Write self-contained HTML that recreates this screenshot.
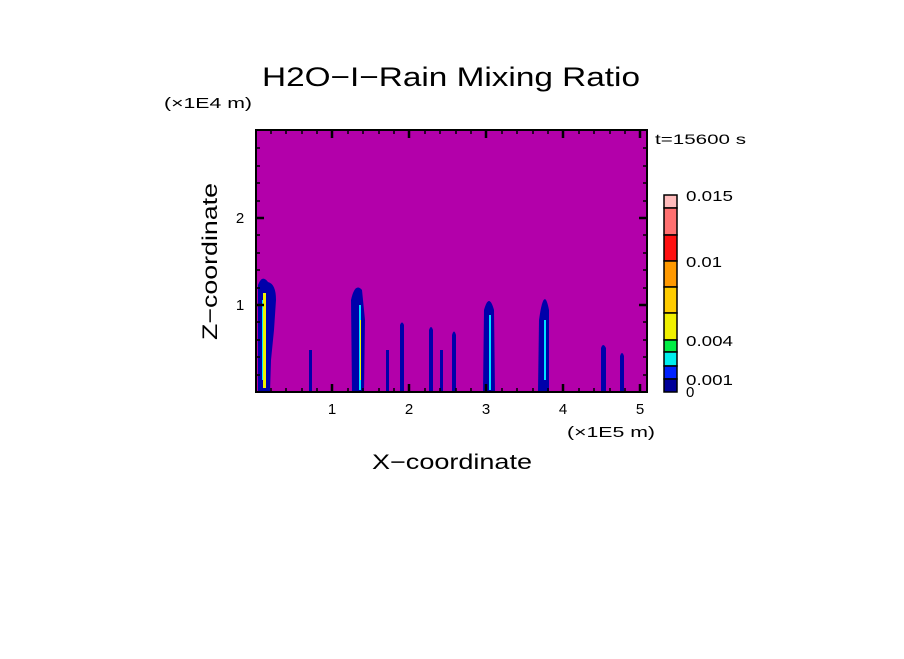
<!DOCTYPE html>
<html><head><style>body{margin:0;background:#fff}</style></head><body>
<svg width="904" height="654" xmlns="http://www.w3.org/2000/svg" font-family="Liberation Sans, DejaVu Sans, sans-serif">
<rect width="904" height="654" fill="#fff"/>
<text x="262" y="86" font-size="27" textLength="378" lengthAdjust="spacingAndGlyphs" fill="#000">H2O−I−Rain Mixing Ratio</text>
<text x="164" y="108" font-size="15" textLength="88" lengthAdjust="spacingAndGlyphs" fill="#000">(×1E4 m)</text>
<text x="655" y="144" font-size="14" textLength="91" lengthAdjust="spacingAndGlyphs" fill="#000">t=15600 s</text>
<rect x="256" y="130" width="391" height="262" fill="#b300aa"/>
<g fill="#0000aa">
<path d="M258,392 L258,285 Q262,274 268,282 Q276,284 276,300 L274,330 L271,360 L270,392 Z"/>
<path d="M352,392 L351,300 Q355,282 362,290 L365,320 L364,392 Z"/>
<rect x="309" y="350" width="3" height="42"/>
<rect x="386" y="350" width="3" height="42"/>
<path d="M400,392 L400,325 Q402,320 404,325 L404,392 Z"/>
<path d="M429,392 L429,330 Q431,324 433,330 L433,392 Z"/>
<rect x="440" y="350" width="3" height="42"/>
<path d="M452,392 L452,335 Q454,328 456,335 L456,392 Z"/>
<path d="M483,392 L484,310 Q489,292 494,310 L495,392 Z"/>
<path d="M538,392 L539,320 Q544,284 549,310 L549,392 Z"/>
<path d="M601,392 L601,348 Q603,342 606,348 L606,392 Z"/>
<path d="M620,392 L620,356 Q622,350 624,356 L624,392 Z"/>
</g>
<rect x="263" y="293" width="3" height="95" fill="#f0f000"/>
<rect x="262" y="300" width="1" height="80" fill="#00e0ff"/>
<rect x="359" y="305" width="2" height="85" fill="#00e0ff"/>
<rect x="360" y="320" width="1" height="60" fill="#f0f000"/>
<rect x="489" y="315" width="2" height="75" fill="#00e0ff"/>
<rect x="544" y="320" width="2" height="60" fill="#00e0ff"/>
<g stroke="#000" fill="none">
<rect x="256" y="130" width="391" height="262" stroke-width="2"/>
<path stroke-width="1.5" d="M271,392v-4M286,392v-4M302,392v-4M317,392v-4M348,392v-4M363,392v-4M379,392v-4M394,392v-4M425,392v-4M440,392v-4M456,392v-4M471,392v-4M502,392v-4M517,392v-4M533,392v-4M548,392v-4M579,392v-4M594,392v-4M610,392v-4M625,392v-4
M271,130v4M286,130v4M302,130v4M317,130v4M348,130v4M363,130v4M379,130v4M394,130v4M425,130v4M440,130v4M456,130v4M471,130v4M502,130v4M517,130v4M533,130v4M548,130v4M579,130v4M594,130v4M610,130v4M625,130v4
M256,375h4M256,357h4M256,340h4M256,322h4M256,288h4M256,270h4M256,253h4M256,235h4M256,201h4M256,183h4M256,166h4M256,148h4
M647,375h-4M647,357h-4M647,340h-4M647,322h-4M647,288h-4M647,270h-4M647,253h-4M647,235h-4M647,201h-4M647,183h-4M647,166h-4M647,148h-4"/>
<path stroke-width="2.5" d="M332,392v-8M409,392v-8M486,392v-8M563,392v-8M640,392v-8M332,130v8M409,130v8M486,130v8M563,130v8M640,130v8M256,305h8M256,218h8M647,305h-8M647,218h-8"/>
</g>
<g font-size="15" fill="#000" text-anchor="middle">
<text x="332" y="414">1</text><text x="409" y="414">2</text><text x="486" y="414">3</text><text x="563" y="414">4</text><text x="640" y="414">5</text>
<text x="240" y="310">1</text><text x="240" y="223">2</text>
</g>
<text x="567" y="437" font-size="15" textLength="88" lengthAdjust="spacingAndGlyphs" fill="#000">(×1E5 m)</text>
<text x="372" y="469" font-size="21" textLength="160" lengthAdjust="spacingAndGlyphs" fill="#000">X−coordinate</text>
<text transform="translate(217,340) rotate(-90)" font-size="21" textLength="157" lengthAdjust="spacingAndGlyphs" fill="#000">Z−coordinate</text>
<g stroke="#000" stroke-width="1.5">
<rect x="664" y="195" width="13" height="13" fill="#ffbbbb"/>
<rect x="664" y="208" width="13" height="27" fill="#ff7070"/>
<rect x="664" y="235" width="13" height="26" fill="#ff1010"/>
<rect x="664" y="261" width="13" height="26" fill="#ff9900"/>
<rect x="664" y="287" width="13" height="26" fill="#ffcc00"/>
<rect x="664" y="313" width="13" height="27" fill="#f0f000"/>
<rect x="664" y="340" width="13" height="12" fill="#00ee44"/>
<rect x="664" y="352" width="13" height="14" fill="#00eeee"/>
<rect x="664" y="366" width="13" height="13" fill="#0022ff"/>
<rect x="664" y="379" width="13" height="13" fill="#000099"/>
</g>
<g font-size="15" fill="#000">
<text x="686" y="201" textLength="47" lengthAdjust="spacingAndGlyphs">0.015</text><text x="686" y="267" textLength="36" lengthAdjust="spacingAndGlyphs">0.01</text><text x="686" y="346" textLength="47" lengthAdjust="spacingAndGlyphs">0.004</text><text x="686" y="385" textLength="47" lengthAdjust="spacingAndGlyphs">0.001</text><text x="686" y="397">0</text>
</g>
</svg>
</body></html>
